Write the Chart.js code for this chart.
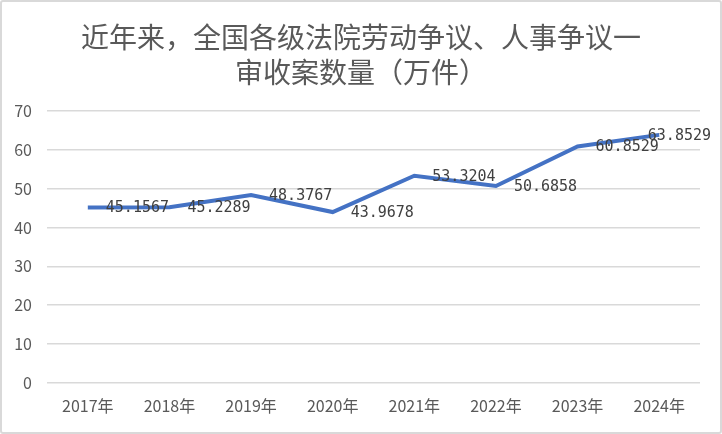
<!DOCTYPE html>
<html>
<head>
<meta charset="utf-8">
<script src="https://cdn.jsdelivr.net/npm/chart.js@4"></script>
<style>
  html, body { margin: 0; padding: 0; background: #fff; }
  #wrap {
    position: absolute; left: 0; top: 0;
    width: 718px; height: 430px;
    border: 2px solid #d9d9d9;
    border-radius: 3px;
  }
</style>
</head>
<body>
<div id="wrap"><canvas id="chart" width="718" height="430"></canvas></div>
<script>
const years = ['2017年', '2018年', '2019年', '2020年', '2021年', '2022年', '2023年', '2024年'];
const cases = [45.1567, 45.2289, 48.3767, 43.9678, 53.3204, 50.6858, 60.8529, 63.8529];
const yTicks = [0, 10, 20, 30, 40, 50, 60, 70];

// value labels to the right of each point, pulled back if they run off the edge
const valueLabels = {
  id: 'valueLabels',
  afterDatasetsDraw(chart) {
    const ctx = chart.ctx;
    const meta = chart.getDatasetMeta(0);
    ctx.save();
    ctx.font = '15px "DejaVu Sans Mono", monospace';
    ctx.fillStyle = '#404040';
    ctx.textAlign = 'left';
    ctx.textBaseline = 'middle';
    meta.data.forEach((pt, i) => {
      const txt = cases[i].toFixed(4);
      const w = ctx.measureText(txt).width;
      let x = pt.x + 18;
      if (x + w > chart.chartArea.right + 11) x = chart.chartArea.right + 11 - w;
      ctx.fillText(txt, x, pt.y + 1);
    });
    ctx.restore();
  }
};

// centre the title on the whole canvas rather than the padded box
const centreTitle = {
  id: 'centreTitle',
  beforeDraw(chart) {
    const t = chart.titleBlock;
    if (t) { t.left = 0; t.right = chart.width; }
  }
};

new Chart(document.getElementById('chart').getContext('2d'), {
  type: 'line',
  data: {
    labels: years,
    datasets: [{
      data: cases,
      borderColor: '#4472C4',
      borderWidth: 4,
      pointRadius: 0,
      tension: 0,
      fill: false
    }]
  },
  options: {
    responsive: false,
    animation: false,
    layout: { padding: { left: 0, right: 20, top: 8, bottom: 10 } },
    plugins: {
      legend: { display: false },
      tooltip: { enabled: false },
      title: {
        display: true,
        text: ['近年来，全国各级法院劳动争议、人事争议一', '审收案数量（万件）'],
        color: '#595959',
        font: { family: '"Noto Sans CJK SC", sans-serif', size: 28, weight: 'normal', lineHeight: 1.25 },
        padding: { top: 10, bottom: 21 }
      }
    },
    scales: {
      x: {
        offset: true,
        grid: { display: false },
        border: { display: false },
        ticks: {
          color: '#595959',
          font: { family: '"Noto Sans CJK SC", sans-serif', size: 16 },
          maxRotation: 0,
          padding: 6
        }
      },
      y: {
        min: 0,
        max: 70,
        afterBuildTicks(scale) { scale.ticks = yTicks.map(v => ({ value: v })); },
        afterFit(scale) { scale.width = 45; },
        grid: { color: '#d9d9d9', lineWidth: 1.5, drawTicks: false },
        border: { display: false },
        ticks: {
          color: '#595959',
          font: { family: '"Noto Sans CJK SC", sans-serif', size: 16 },
          padding: 15
        }
      }
    }
  },
  plugins: [valueLabels, centreTitle]
});
</script>
</body>
</html>
